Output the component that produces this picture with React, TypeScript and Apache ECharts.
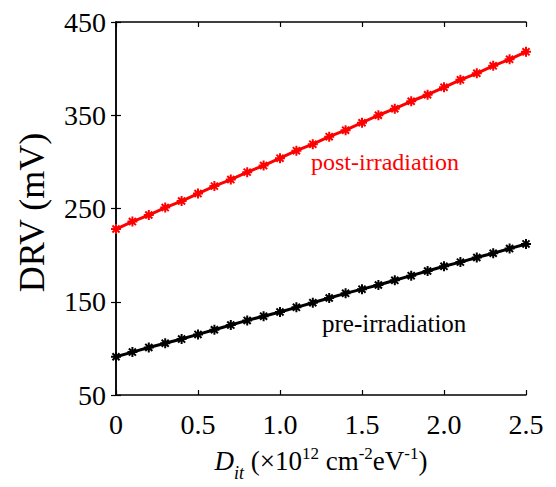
import React, { useEffect, useRef } from "react";
import * as echarts from "echarts";

const xValues = [0, 0.1, 0.2, 0.3, 0.4, 0.5, 0.6, 0.7, 0.8, 0.9, 1.0, 1.1, 1.2, 1.3, 1.4, 1.5, 1.6, 1.7, 1.8, 1.9, 2.0, 2.1, 2.2, 2.3, 2.4, 2.5];
const postIrradiation = [228, 236, 243, 251, 258, 266, 274, 281, 289, 296, 304, 312, 319, 327, 334, 342, 350, 357, 365, 372, 380, 388, 395, 403, 410, 418];
const preIrradiation = [91, 96, 101, 105.5, 110, 115, 120, 125, 130, 134.5, 139, 144, 149, 154, 159, 163.5, 168, 173, 178, 183, 188, 192.5, 197.5, 202, 207, 212];
const xTicks = ["0", "0.5", "1.0", "1.5", "2.0", "2.5"];
const yTicks = [50, 150, 250, 350, 450];

const asterisk =
  "path://M-1,-5 L1,-5 L1,5 L-1,5 Z M-5,-1 L5,-1 L5,1 L-5,1 Z " +
  "M2.83,-4.24 L4.24,-2.83 L-2.83,4.24 L-4.24,2.83 Z " +
  "M4.24,2.83 L2.83,4.24 L-4.24,-2.83 L-2.83,-4.24 Z";

const FONT = "'Liberation Serif', 'Times New Roman', serif";

export default function App() {
  const ref = useRef<HTMLDivElement>(null);
  useEffect(() => {
    const chart = echarts.init(ref.current!, null, { renderer: "svg" });
    const toPairs = (ys: number[]) => xValues.map((x, i) => [x, ys[i]]);
    const boxAxis = {
      axisLine: { show: true, lineStyle: { color: "#000", width: 1.5 } },
      axisTick: { show: true, inside: true, length: 5, lineStyle: { color: "#000", width: 1.2 } },
      splitLine: { show: false },
    };
    chart.setOption({
      animation: false,
      backgroundColor: "#ffffff",
      grid: { left: 116, right: 30, top: 22, bottom: 87, show: false },
      xAxis: [
        {
          type: "value",
          min: 0,
          max: 2.5,
          interval: 0.5,
          ...boxAxis,
          axisLabel: {
            margin: 15,
            color: "#000",
            fontFamily: FONT,
            fontSize: 28,
            formatter: (v: number) => {
              const idx = Math.round(v / 0.5);
              return xTicks[idx] ?? "";
            },
          },
          name: "{i|D}{sub|it}{n| (×10}{sup|12}{n| cm}{sup|-2}{n|eV}{sup|-1}{n|)}",
          nameLocation: "middle",
          nameGap: 50,
          nameTextStyle: {
            color: "#000",
            fontFamily: FONT,
            rich: {
              i: { fontFamily: FONT, fontSize: 27, fontStyle: "italic", color: "#000", lineHeight: 32, verticalAlign: "middle" },
              n: { fontFamily: FONT, fontSize: 27, color: "#000", lineHeight: 32, verticalAlign: "middle" },
              sub: { fontFamily: FONT, fontSize: 18, fontStyle: "italic", color: "#000", lineHeight: 32, verticalAlign: "bottom", padding: [0, 0, -5, 0] },
              sup: { fontFamily: FONT, fontSize: 17, color: "#000", lineHeight: 32, verticalAlign: "top" },
            },
          },
        },
        {
          type: "value",
          position: "top",
          min: 0,
          max: 2.5,
          interval: 0.5,
          ...boxAxis,
          axisLabel: { show: false },
        },
      ],
      yAxis: [
        {
          type: "value",
          min: 50,
          max: 450,
          interval: 100,
          ...boxAxis,
          axisLabel: {
            margin: 10,
            color: "#000",
            fontFamily: FONT,
            fontSize: 28,
            formatter: (v: number) => (yTicks.includes(Math.round(v)) ? String(Math.round(v)) : ""),
          },
          name: "DRV (mV)",
          nameLocation: "middle",
          nameGap: 66,
          nameTextStyle: { color: "#000", fontFamily: FONT, fontSize: 36, padding: [0, 8, 0, 0] },
        },
        {
          type: "value",
          position: "right",
          min: 50,
          max: 450,
          interval: 100,
          ...boxAxis,
          axisLabel: { show: false },
        },
      ],
      series: [
        {
          name: "post-irradiation",
          type: "line",
          data: toPairs(postIrradiation),
          symbol: asterisk,
          symbolSize: 10,
          lineStyle: { color: "#ff0000", width: 3 },
          itemStyle: { color: "#ff0000" },
          clip: false,
        },
        {
          name: "pre-irradiation",
          type: "line",
          data: toPairs(preIrradiation),
          symbol: asterisk,
          symbolSize: 10,
          lineStyle: { color: "#000000", width: 3 },
          itemStyle: { color: "#000000" },
          clip: false,
        },
      ],
      graphic: [
        {
          type: "text",
          left: 311,
          top: 150,
          style: { text: "post-irradiation", fill: "#ff0000", font: `24px ${FONT}` },
        },
        {
          type: "text",
          left: 322,
          top: 311,
          style: { text: "pre-irradiation", fill: "#000000", font: `25px ${FONT}` },
        },
      ],
    });
    return () => chart.dispose();
  }, []);
  return <div ref={ref} style={{ position: "fixed", left: 0, top: 0, width: 556, height: 487 }} />;
}
